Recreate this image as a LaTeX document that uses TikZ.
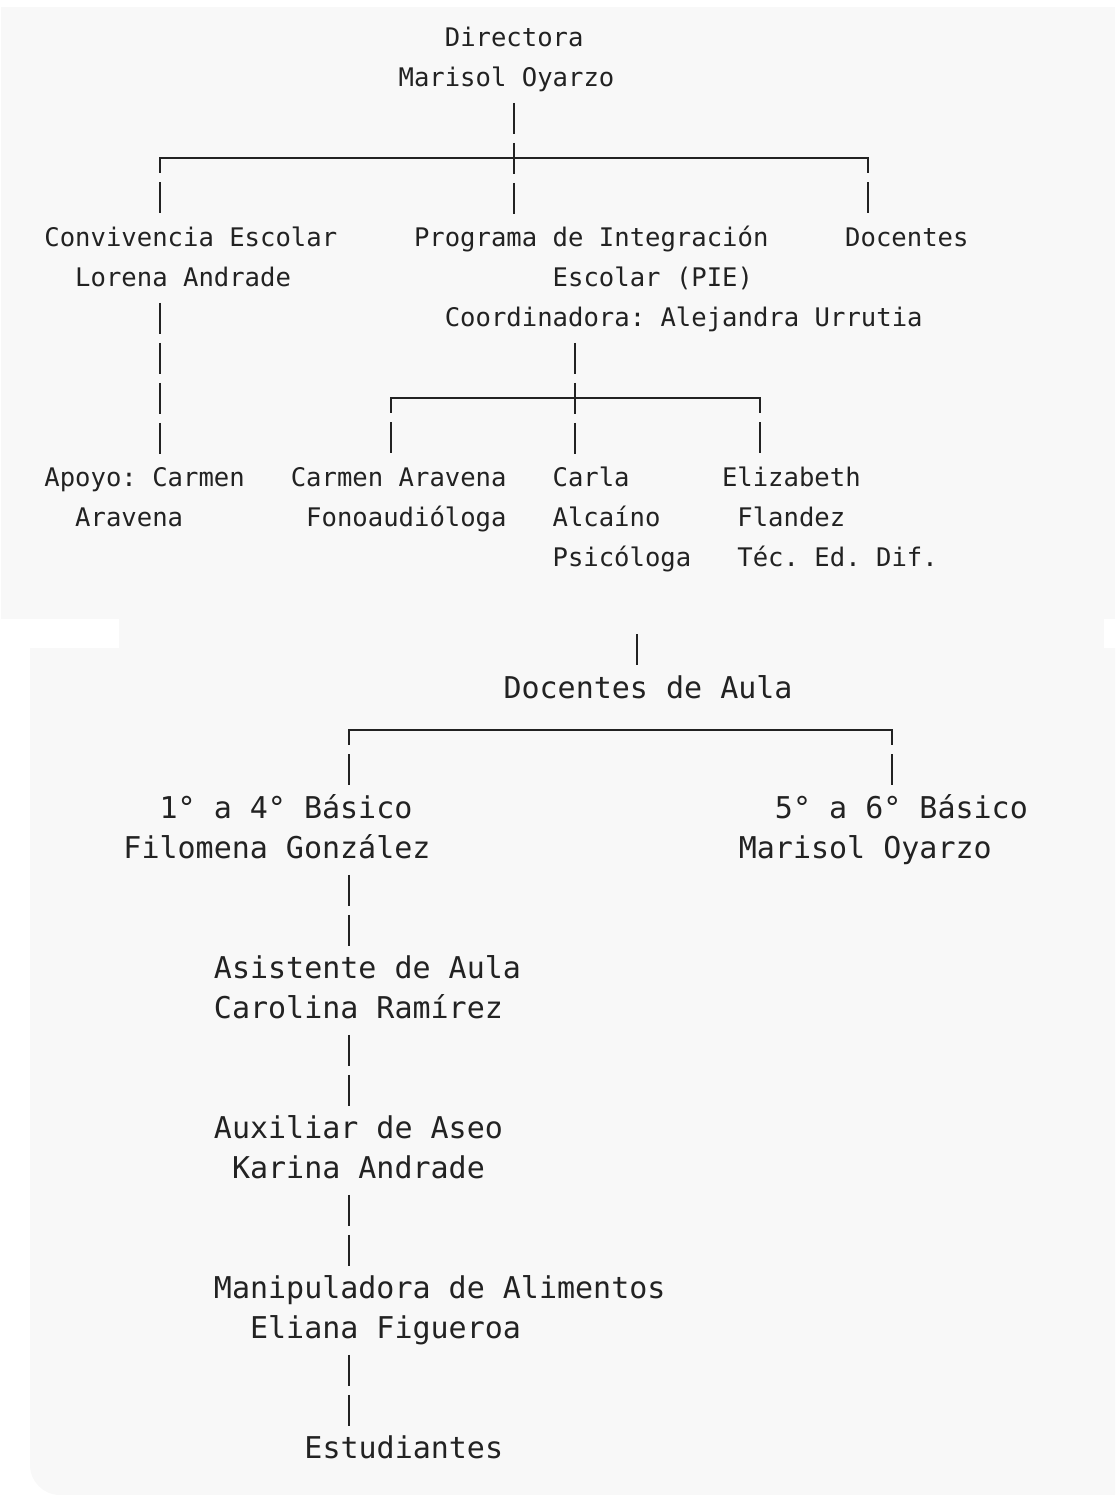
\documentclass[tikz,border=0pt]{standalone}
\usepackage{fontspec}
\setmonofont{DejaVu Sans Mono}
\definecolor{paper}{HTML}{F8F8F8}
\definecolor{ink}{HTML}{222222}
\newcommand\ind[1]{\hspace*{#1\fontcharwd\font`0\relax}}
\newcommand\blk[1]{\begin{tabular}{@{}l@{}}#1\end{tabular}}
\tikzset{
  org/.style={anchor=north west, inner sep=0pt, text=ink},
  orgA/.style={org, font=\ttfamily\fontsize{12.8}{20}\selectfont},
  orgB/.style={org, font=\ttfamily\fontsize{15}{20}\selectfont},
  bar/.style={draw=ink, line width=1pt},
  hbar/.style={bar, line cap=rect},
  vl/.style={bar, dash pattern=on 15.5pt off 4.5pt, dash phase=18pt},
  vc/.style={bar, dash pattern=on 15.5pt off 4.5pt, dash phase=8pt},
}
\begin{document}
\begin{tikzpicture}[x=0.5pt, y=-0.5pt]
      \useasboundingbox (0,0) rectangle (1115,1495);
      % the two screen captures
      \fill[paper] (1,7) rectangle (1115,619);
      \fill[paper] (119,619) rectangle (1104,648);
      \fill[paper] (30,648) -- (1115,648) -- (1115,1495) -- (60,1495)
        arc[start angle=270, end angle=180, radius=15pt] -- cycle;
      % upper chart
      \path
        (398.2,18) node[orgA] (dir) {\blk{\ind{3}Directora\\Marisol Oyarzo}}
        (44,218) node[orgA] (conv) {\blk{Convivencia Escolar\\\ind{2}Lorena Andrade}}
        (413.6,218) node[orgA] (pie) {\blk{Programa de Integración\\\ind{9}Escolar (PIE)\\\ind{2}Coordinadora: Alejandra Urrutia}}
        (844.8,218) node[orgA] (doc) {\blk{Docentes}}
        (44,458) node[orgA] (apoyo) {\blk{Apoyo: Carmen\\\ind{2}Aravena}}
        (290.4,458) node[orgA] (fono) {\blk{Carmen Aravena\\\ind{1}Fonoaudióloga}}
        (552.2,458) node[orgA] (psi) {\blk{Carla\\Alcaíno\\Psicóloga}}
        (721.6,458) node[orgA] (tec) {\blk{Elizabeth\\\ind{1}Flandez\\\ind{1}Téc. Ed. Dif.}};
      % lower chart
      \path
        (503.15,670) node[orgB] (aula) {\blk{Docentes de Aula}}
        (123.05,790) node[orgB] (g14) {\blk{\ind{2}1° a 4° Básico\\Filomena González}}
        (738.45,790) node[orgB] (g56) {\blk{\ind{2}5° a 6° Básico\\Marisol Oyarzo}}
        (213.55,950) node[orgB] (asis) {\blk{Asistente de Aula\\Carolina Ramírez}}
        (213.55,1110) node[orgB] (aux) {\blk{Auxiliar de Aseo\\\ind{1}Karina Andrade}}
        (213.55,1270) node[orgB] (mani) {\blk{Manipuladora de Alimentos\\\ind{2}Eliana Figueroa}}
        (304.05,1430) node[orgB] (est) {\blk{Estudiantes}};
      \coordinate (j1) at (513.7,158);
      \coordinate (b1l) at (159.5,158);
      \coordinate (b1r) at (867.9,158);
      \coordinate (j2) at (575.3,398);
      \coordinate (b2l) at (390.5,398);
      \coordinate (b2r) at (760.1,398);
      \coordinate (up) at (637,630);
      \coordinate (b3l) at (349.3,730);
      \coordinate (b3r) at (892.3,730);
      \begin{scope}
        \draw[hbar] (b1l) -- (b1r);
        \draw[vl] (dir.south -| j1) -- (pie.north -| j1);
        \draw[vc] (b1l) -- (b1l |- conv.north);
        \draw[vc] (b1r) -- (b1r |- doc.north);
        \draw[vl] (conv.south -| b1l) -- (apoyo.north -| b1l);
        \draw[hbar] (b2l) -- (b2r);
        \draw[vl] (pie.south -| j2) -- (psi.north -| j2);
        \draw[vc] (b2l) -- (b2l |- fono.north);
        \draw[vc] (b2r) -- (b2r |- tec.north);
        \draw[vl] (up) -- (up |- aula.north);
        \draw[hbar] (b3l) -- (b3r);
        \draw[vc] (b3l) -- (b3l |- g14.north);
        \draw[vc] (b3r) -- (b3r |- g56.north);
        \draw[vl] (g14.south -| b3l) -- (asis.north -| b3l);
        \draw[vl] (asis.south -| b3l) -- (aux.north -| b3l);
        \draw[vl] (aux.south -| b3l) -- (mani.north -| b3l);
        \draw[vl] (mani.south -| b3l) -- (est.north -| b3l);
      \end{scope}
\end{tikzpicture}
\end{document}
